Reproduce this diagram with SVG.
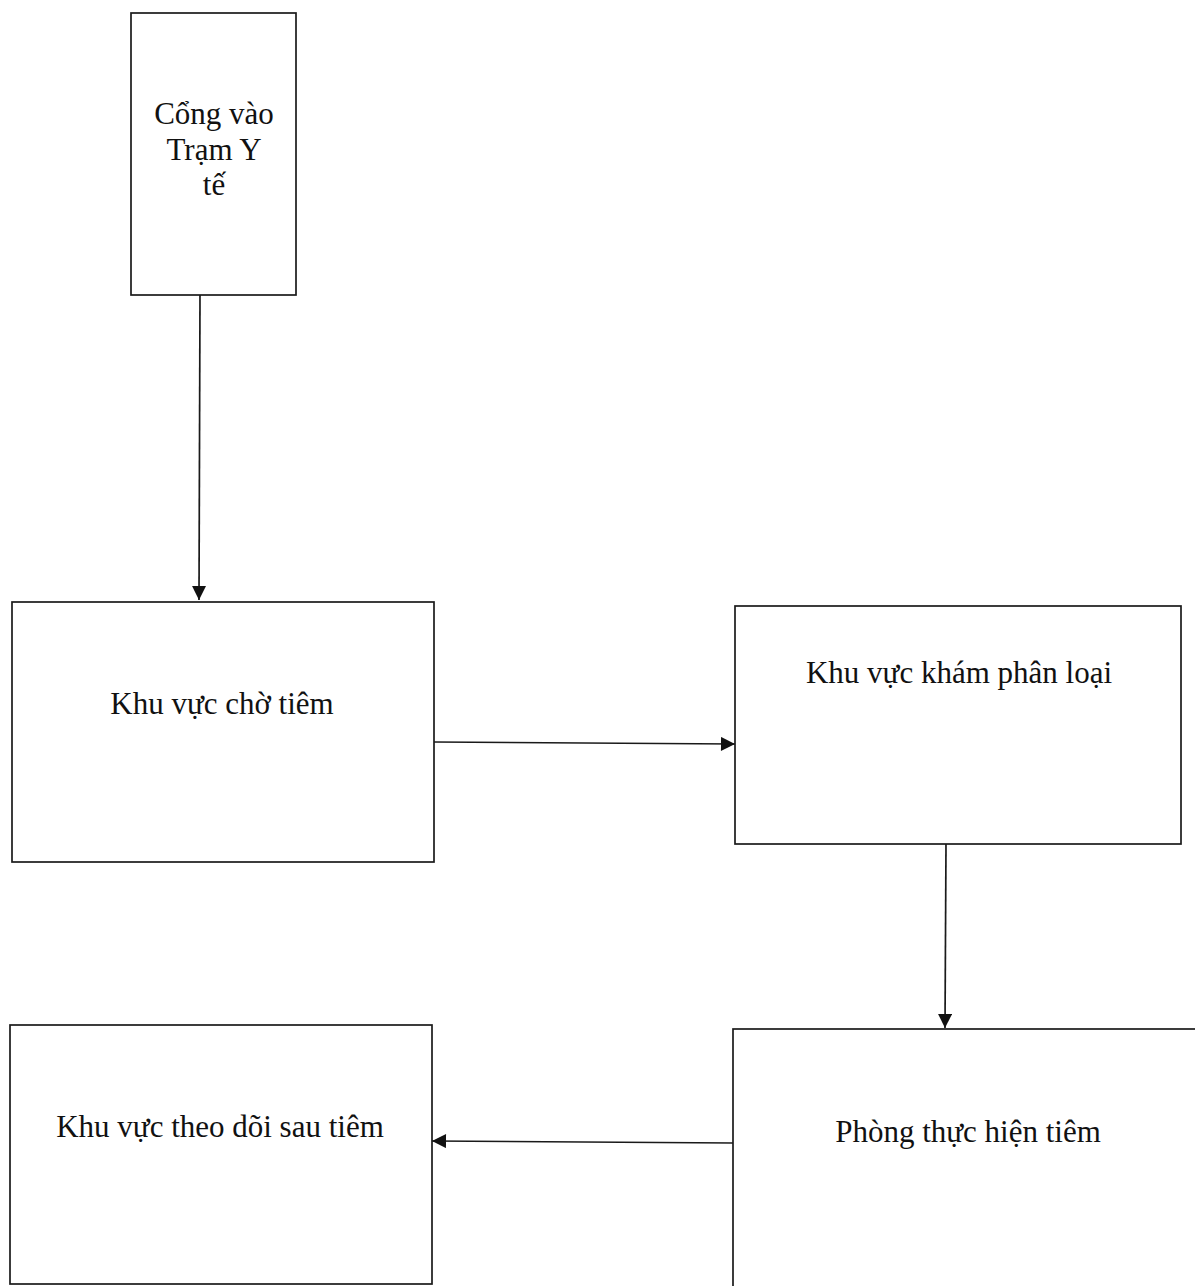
<svg xmlns="http://www.w3.org/2000/svg" width="1195" height="1286" viewBox="0 0 1195 1286">
<style>
.box{fill:#fff;stroke:#1a1a1a;stroke-width:1.7}
.lbl{font-family:"Liberation Serif","Times New Roman",serif;font-size:31px;fill:#111;text-anchor:middle}
.conn{stroke:#1a1a1a;stroke-width:1.7;fill:none}
</style>
<defs>
<marker id="ah" viewBox="0 0 10 10" refX="10" refY="5" markerWidth="15" markerHeight="14" markerUnits="userSpaceOnUse" orient="auto">
<path d="M0,0 L10,5 L0,10 Z" fill="#111"/>
</marker>
</defs>
<rect width="1195" height="1286" fill="#fff"/>
<g id="connectors">
<line class="conn" x1="200" y1="295" x2="199" y2="600" marker-end="url(#ah)"/>
<line class="conn" x1="434" y1="742" x2="735" y2="744" marker-end="url(#ah)"/>
<line class="conn" x1="946" y1="844" x2="945" y2="1028" marker-end="url(#ah)"/>
<line class="conn" x1="733" y1="1143" x2="432" y2="1141" marker-end="url(#ah)"/>
</g>
<g id="node-cong-vao">
<rect class="box" x="131" y="13" width="165" height="282"/>
<text class="lbl" x="214" y="124">Cổng vào</text>
<text class="lbl" x="214" y="160">Trạm Y</text>
<text class="lbl" x="214" y="195">tế</text>
</g>
<g id="node-cho-tiem">
<rect class="box" x="12" y="602" width="422" height="260"/>
<text class="lbl" x="222" y="714">Khu vực chờ tiêm</text>
</g>
<g id="node-kham-phan-loai">
<rect class="box" x="735" y="606" width="446" height="238"/>
<text class="lbl" x="959" y="683">Khu vực khám phân loại</text>
</g>
<g id="node-theo-doi">
<rect class="box" x="10" y="1025" width="422" height="259"/>
<text class="lbl" x="220" y="1137">Khu vực theo dõi sau tiêm</text>
</g>
<g id="node-thuc-hien-tiem">
<rect class="box" x="733" y="1029" width="480" height="280"/>
<text class="lbl" x="968" y="1142">Phòng thực hiện tiêm</text>
</g>
</svg>
